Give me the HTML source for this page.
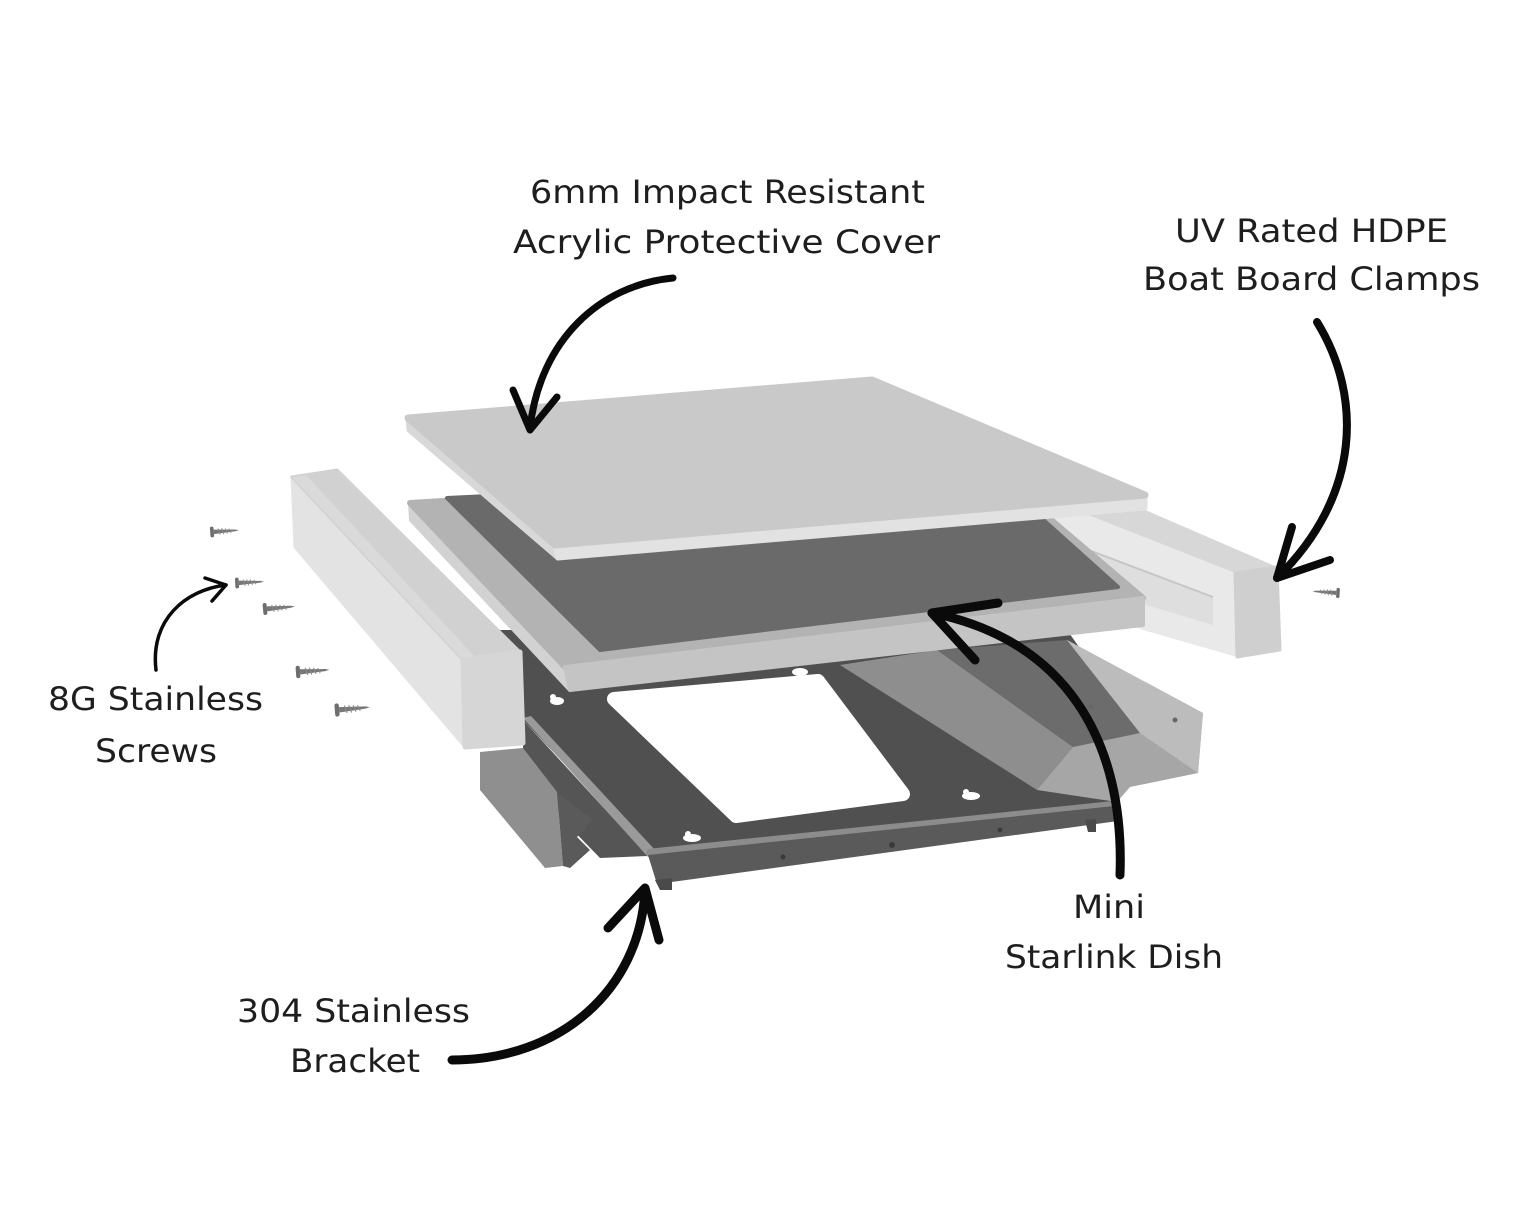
<!DOCTYPE html>
<html>
<head>
<meta charset="utf-8">
<style>
html,body{margin:0;padding:0;background:#fff;}
svg{display:block;}
text{font-family:"DejaVu Sans","Liberation Sans",sans-serif;font-size:32px;fill:#1e1e1e;}
</style>
</head>
<body>
<svg width="1514" height="1220" viewBox="0 0 1514 1220" xmlns="http://www.w3.org/2000/svg">
<rect width="1514" height="1220" fill="#fff"/>

<!-- ===== BRACKET ===== -->
<g stroke-linejoin="round">
  <!-- floor -->
  <polygon points="500,630 1067,630 1140,733 1117,803 648,852 525,722 505,690" fill="#505050"/>
  <!-- cutout -->
  <polygon points="614,699 818,681 903,794 736,816" fill="#fff" stroke="#fff" stroke-width="14"/>
  <!-- keyhole slots -->
  <g fill="#fff">
    <ellipse cx="557" cy="701" rx="7" ry="4"/><circle cx="553" cy="697" r="3"/>
    <ellipse cx="800" cy="672" rx="8" ry="4"/>
    <ellipse cx="971" cy="796" rx="9" ry="4"/><circle cx="966" cy="792" r="3"/>
    <ellipse cx="692" cy="838" rx="9" ry="4"/><circle cx="688" cy="834" r="3"/>
  </g>
  <!-- right inclined band -->
  <polygon points="840,665 937,650 1073,747 1037,790" fill="#8e8e8e"/>
  <polygon points="937,650 1067,640 1140,733 1073,747" fill="#6c6c6c"/>
  <!-- right flange -->
  <polygon points="1067,640 1203,713 1198,773 1130,787 1117,802 1037,790 1073,747 1140,733" fill="#a6a6a6"/>
  <polygon points="1067,640 1203,713 1198,773 1140,733" fill="#bcbcbc"/>
  <circle cx="1091" cy="707" r="2.5" fill="#666"/>
  <circle cx="1175" cy="720" r="2.5" fill="#666"/>
  <!-- left inner dark -->
  <polygon points="523,720 648,856 600,858 563,820 523,750" fill="#555"/>
  <!-- left flange -->
  <polygon points="480,752 523,748 557,792 563,866 545,868 480,790" fill="#8f8f8f"/>
  <polygon points="557,792 593,820 577,837 590,850 570,868 563,866" fill="#5a5a5a"/>
  <!-- left rail -->
  <polygon points="523,718 531,716 656,851 648,857" fill="#9a9a9a"/>
  <!-- front lip -->
  <polygon points="647,852 1113,804 1118,821 657,884" fill="#5a5a5a"/>
  <polygon points="647,849 1113,801 1114,806 648,855" fill="#8c8c8c"/>
  <polygon points="655,880 672,878 672,890 660,890" fill="#4a4a4a"/>
  <polygon points="1085,820 1096,819 1096,832 1088,832" fill="#4a4a4a"/>
  <g fill="#3a3a3a">
    <circle cx="783" cy="857" r="2.5"/><circle cx="892" cy="845" r="3"/><circle cx="1000" cy="830" r="2.5"/>
  </g>
</g>

<!-- ===== RIGHT CLAMP ===== -->
<g stroke-linejoin="round">
  <polygon points="1003,521 1083,513 1235,573 1237,657 1143,630 1003,575" fill="#e9e9e9"/>
  <polygon points="1025,526 1213,597 1213,625 1143,604 1010,560" fill="#dedede"/>
  <polyline points="1025,526 1213,597" fill="none" stroke="#c6c6c6" stroke-width="2"/>
  <polygon points="1083,513 1143,509 1277,567 1235,573" fill="#d7d7d7"/>
  <polygon points="1235,573 1277,567 1280,650 1237,657" fill="#cfcfcf" stroke="#cfcfcf" stroke-width="3"/>
</g>

<!-- ===== STARLINK DISH ===== -->
<g stroke-linejoin="round">
  <polygon points="410,503 565,667 570,690 411,520" fill="#d2d2d2" stroke="#d2d2d2" stroke-width="4"/>
  <polygon points="410,503 990,468 1143,598 565,667" fill="#b3b3b3" stroke="#b3b3b3" stroke-width="6"/>
  <polygon points="447,498 990,472 1118,587 600,650" fill="#6b6a6b" stroke="#6b6a6b" stroke-width="4"/>
  <polygon points="565,667 1143,598 1143,625 570,690" fill="#c4c4c4" stroke="#c4c4c4" stroke-width="4"/>
</g>

<!-- ===== ACRYLIC COVER ===== -->
<g stroke-linejoin="round">
  <polygon points="408,418 555,545 558,558 409,430" fill="#d8d8d8" stroke="#d8d8d8" stroke-width="5"/>
  <polygon points="555,545 1145,495 1145,508 558,558" fill="#e2e2e2" stroke="#e2e2e2" stroke-width="5"/>
  <polygon points="408,418 872,380 1145,495 555,545" fill="#c9c9c9" stroke="#c9c9c9" stroke-width="7"/>
</g>

<!-- ===== LEFT CLAMP ===== -->
<g stroke-linejoin="round">
  <polygon points="292,477 295,547 465,747 463,660" fill="#e3e3e3" stroke="#e3e3e3" stroke-width="3"/>
  <polygon points="292,477 337,470 520,652 463,660" fill="#d1d1d1" stroke="#d1d1d1" stroke-width="3"/>
  <polygon points="292,477 306,475 476,658 463,660" fill="#dadada"/>
  <polygon points="463,660 520,652 523,743 465,747" fill="#d6d6d6" stroke="#d6d6d6" stroke-width="5"/>
</g>

<!-- ===== SCREWS ===== -->
<defs>
  <g id="screw">
    <rect x="-2" y="-6" width="4" height="12" rx="2" fill="#6e6e6e"/>
    <polygon points="2,-2.5 26,-1 30,0 26,1 2,2.5" fill="#777"/>
    <g stroke="#8a8a8a" stroke-width="1">
      <line x1="7" y1="-3.5" x2="9" y2="3.5"/><line x1="11" y1="-3.5" x2="13" y2="3.5"/>
      <line x1="15" y1="-3" x2="17" y2="3"/><line x1="19" y1="-2.5" x2="21" y2="2.5"/>
    </g>
  </g>
</defs>
<use href="#screw" transform="translate(212,532) rotate(-4) scale(0.9)"/>
<use href="#screw" transform="translate(237,583) rotate(-3) scale(0.9)"/>
<use href="#screw" transform="translate(265,609) rotate(-5)"/>
<use href="#screw" transform="translate(298,672) rotate(-4) scale(1.05)"/>
<use href="#screw" transform="translate(337,710) rotate(-5) scale(1.1)"/>
<use href="#screw" transform="translate(1338,593) rotate(184) scale(0.85)"/>

<!-- ===== ARROWS ===== -->
<g fill="none" stroke="#0a0a0a" stroke-linecap="round" stroke-linejoin="round">
  <path d="M673,278 C600,285 540,340 530,428" stroke-width="7"/>
  <path d="M513,390 L530,430 L557,397" stroke-width="7"/>
  <path d="M1317,322 C1362,395 1362,495 1277,578" stroke-width="8"/>
  <path d="M1292,527 L1277,578 L1330,560" stroke-width="8"/>
  <path d="M1120,875 C1125,740 1065,640 932,613" stroke-width="9"/>
  <path d="M998,603 L932,613 L975,660" stroke-width="9"/>
  <path d="M452,1060 C560,1060 640,990 645,890" stroke-width="9"/>
  <path d="M608,928 L645,888 L659,940" stroke-width="9"/>
  <path d="M156,670 C150,620 185,590 226,585" stroke-width="3.5"/>
  <path d="M205,578 L226,585 L212,601" stroke-width="3.5"/>
</g>

<!-- ===== LABELS ===== -->
<text x="530" y="203" textLength="395" lengthAdjust="spacingAndGlyphs">6mm Impact Resistant</text>
<text x="513" y="253" textLength="427" lengthAdjust="spacingAndGlyphs">Acrylic Protective Cover</text>
<text x="1175" y="242" textLength="273" lengthAdjust="spacingAndGlyphs">UV Rated HDPE</text>
<text x="1143" y="290" textLength="337" lengthAdjust="spacingAndGlyphs">Boat Board Clamps</text>
<text x="48" y="710" textLength="215" lengthAdjust="spacingAndGlyphs">8G Stainless</text>
<text x="95" y="762" textLength="122" lengthAdjust="spacingAndGlyphs">Screws</text>
<text x="237" y="1022" textLength="233" lengthAdjust="spacingAndGlyphs">304 Stainless</text>
<text x="290" y="1072" textLength="130" lengthAdjust="spacingAndGlyphs">Bracket</text>
<text x="1073" y="918" textLength="72" lengthAdjust="spacingAndGlyphs">Mini</text>
<text x="1005" y="968" textLength="218" lengthAdjust="spacingAndGlyphs">Starlink Dish</text>
</svg>
</body>
</html>
